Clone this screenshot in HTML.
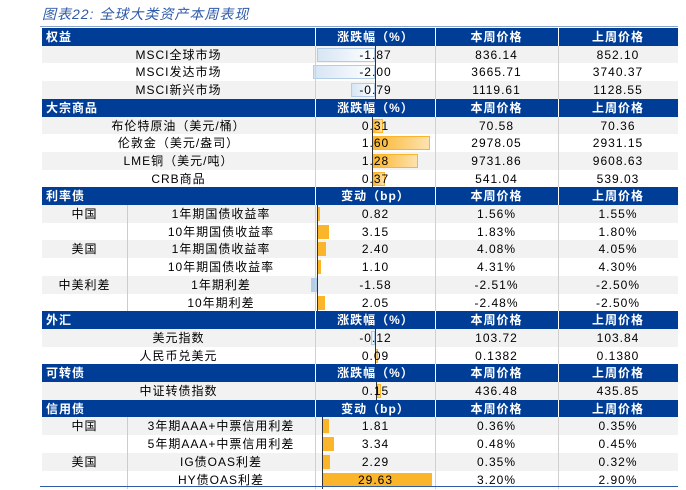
<!DOCTYPE html>
<html><head><meta charset="utf-8">
<style>
body{margin:0;width:686px;height:490px;background:#fff;font-family:"Liberation Sans","Noto Sans CJK SC",sans-serif;overflow:hidden;position:relative}
#title{position:absolute;left:42px;top:4px;font-size:14px;font-style:italic;color:#2e5aa8;letter-spacing:1px}
#tline{position:absolute;left:40px;top:26px;width:638px;height:1px;background:#8aa5d0}
.row{position:absolute;left:42px;width:636px;height:18px;font-size:12px;letter-spacing:1px}
.hdr{background:#003d96;color:#fff;font-weight:bold}
.c{position:absolute;top:0;height:100%;line-height:18px;text-align:center}
.bar{position:absolute;top:2px;height:14px}
.vl{position:absolute;top:0;width:1px;height:100%;background:#fff}
.ax{position:absolute;top:0;width:1px;height:100%;background:#333}
</style></head><body>
<div id="title">图表22: 全球大类资产本周表现</div>
<div id="tline"></div>
<div id="tbl"></div>
<div style="position:absolute;left:40px;top:486px;width:638px;height:1px;background:#2e5aa8"></div>
<script>
const sections=["权益","大宗商品","利率债","外汇","可转债","信用债"];
const headers=["涨跌幅（%）","涨跌幅（%）","变动（bp）","涨跌幅（%）","涨跌幅（%）","变动（bp）"];
const countries=[[],[],["中国","","美国","","中美利差",""],[],[],["中国","","美国",""]];
const items=[["MSCI全球市场","MSCI发达市场","MSCI新兴市场"],["布伦特原油（美元/桶）","伦敦金（美元/盎司）","LME铜（美元/吨）","CRB商品"],["1年期国债收益率","10年期国债收益率","1年期国债收益率","10年期国债收益率","1年期利差","10年期利差"],["美元指数","人民币兑美元"],["中证转债指数"],["3年期AAA+中票信用利差","5年期AAA+中票信用利差","IG债OAS利差","HY债OAS利差"]];
const changes=[[-1.87,-2.00,-0.79],[0.31,1.60,1.28,0.37],[0.82,3.15,2.40,1.10,-1.58,2.05],[-0.12,0.09],[0.15],[1.81,3.34,2.29,29.63]];
const thisWeek=[["836.14","3665.71","1119.61"],["70.58","2978.05","9731.86","541.04"],["1.56%","1.83%","4.08%","4.31%","-2.51%","-2.48%"],["103.72","0.1382"],["436.48"],["0.36%","0.48%","0.35%","3.20%"]];
const lastWeek=[["852.10","3740.37","1128.55"],["70.36","2931.15","9608.63","539.03"],["1.55%","1.80%","4.05%","4.30%","-2.50%","-2.50%"],["103.84","0.1380"],["435.85"],["0.35%","0.45%","0.32%","2.90%"]];
// per-section bar axis (x inside table) and px per unit
const axisX=[333,330,275,333,334,280];
const pxPer=[31,36,3.8,31,31,3.7];
const RH=17.7,TOP=28;
const tbl=document.getElementById('tbl');
let r=0;
function cell(row,left,w,txt,name,align){const d=document.createElement('div');d.className='c';d.style.left=left+'px';d.style.width=w+'px';if(align)d.style.textAlign=align;d.textContent=txt;


row.appendChild(d);return d;}
sections.forEach((s,si)=>{
 const h=document.createElement('div');h.className='row hdr';h.style.top=(TOP+r*RH)+'px';
 
 
 cell(h,4,200,s,'section-title','left');
 cell(h,274,119,headers[si],'change-header');
 cell(h,393,123,'本周价格','this-week-header');
 cell(h,516,120,'上周价格','last-week-header');
 [273,393,516].forEach(x=>{const v=document.createElement('div');v.className='vl';v.style.left=x+'px';h.appendChild(v);});
 tbl.appendChild(h);r++;
 const hasC=countries[si].length>0;
 items[si].forEach((it,i)=>{
  const row=document.createElement('div');row.className='row';row.style.top=(TOP+r*RH)+'px';
  row.style.background=(i%2==0)?'#f2f2f2':'#fff';
  
  
  if(hasC){cell(row,0,85,countries[si][i],'country-label');cell(row,85,188,it,'item-label');
   const v=document.createElement('div');v.className='vl';v.style.left='85px';v.style.background='#ccc';row.appendChild(v);}
  else cell(row,0,273,it,'item-label');
  const val=changes[si][i];const w=Math.abs(val)*pxPer[si];
  const b=document.createElement('div');b.className='bar';
  
  
  const ax=axisX[si];
  if(val<0){b.style.left=(ax-w)+'px';b.style.width=w+'px';b.style.background=(si==2)?'#b4cde6':'linear-gradient(to right,#d7e5f4,#fff)';b.style.border=(si==2)?'none':'1px solid #b4cde6';b.style.boxSizing='border-box';}
  else{b.style.left=ax+'px';b.style.width=w+'px';b.style.background=(si==2||si==5)?'#fbb52b':'linear-gradient(to right,#fbb52b,#fde2b0)';if(!(si==2||si==5)){b.style.border='1px solid #fbb52b';b.style.boxSizing='border-box';}}
  row.appendChild(b);
  const a=document.createElement('div');a.className='ax';a.style.left=ax+'px';row.appendChild(a);
  cell(row,274,119,val.toFixed(2),'change-value');
  cell(row,393,123,thisWeek[si][i],'this-week-value');
  cell(row,516,120,lastWeek[si][i],'last-week-value');
  [273,393,516].forEach(x=>{const v=document.createElement('div');v.className='vl';v.style.left=x+'px';v.style.background='#d0d0d0';row.appendChild(v);});
  tbl.appendChild(row);r++;
 });
});
</script>
</body></html>
